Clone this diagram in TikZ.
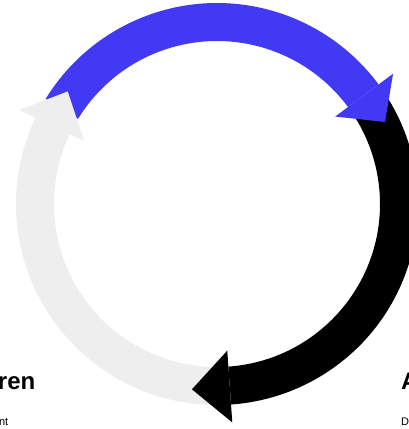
\documentclass[tikz,border=0pt]{standalone}
\usepackage{fontspec}
\setmainfont{Liberation Sans}
\usetikzlibrary{calc}
\definecolor{cycblue}{HTML}{4139F4}
\definecolor{cycgrey}{HTML}{EEEEEE}
\begin{document}
\begin{tikzpicture}[x=1pt,y=1pt,
  heading/.style={inner sep=0pt,font=\fontsize{24}{28}\selectfont\bfseries},
  bodytext/.style={inner sep=0pt,font=\fontsize{11}{13}\selectfont}]
\useasboundingbox (0,0) rectangle (408,429);
\coordinate (C) at (217,225);
% shafts (annular sectors)
\newcommand{\cycshaft}[3]{%
  \fill[#3] ($(C)+(#1:201pt)$) arc[start angle=#1,end angle=#2,radius=201pt]
    -- ($(C)+(#2:163pt)$) arc[start angle=#2,end angle=#1,radius=163pt] -- cycle;}
\newcommand{\cychead}[3]{%
  \fill[#3] ($(C)+(#1:147pt)$) -- ($(C)+(#1:219pt)$) -- ($(C)+(#2:187pt)$) -- cycle;}
\cycshaft{272}{154.6}{cycgrey}
\cycshaft{34}{-86}{black}
\cycshaft{148.5}{36.5}{cycblue}
% heads
\cychead{154.6}{143}{cycgrey}
\cychead{36.5}{26}{cycblue}
\cychead{-86}{-97.7}{black}
% texts
\node[heading,anchor=base east] (lefthead) at (35.5,39) {ren};
\node[bodytext,anchor=base east] (lefttext) at (8.5,3) {nt};
\node[heading,anchor=base west] (righthead) at (401,39) {A};
\node[bodytext,anchor=base west] (righttext) at (401,3) {D};
\end{tikzpicture}
\end{document}
